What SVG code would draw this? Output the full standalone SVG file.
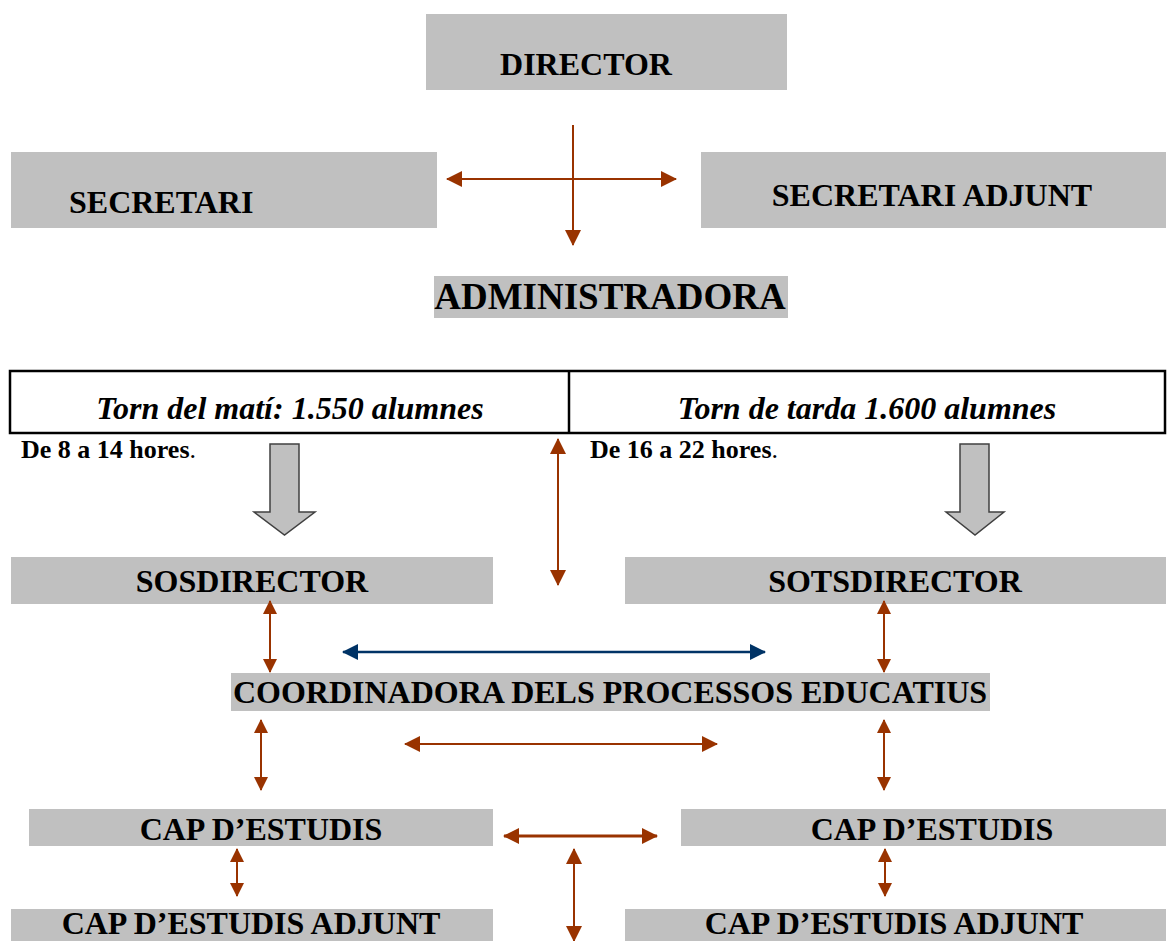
<svg xmlns="http://www.w3.org/2000/svg" width="1168" height="941" viewBox="0 0 1168 941">
<style>
.box{fill:#c0c0c0}
.t{font-family:"Liberation Serif","Times New Roman",serif;font-weight:bold;font-size:32px;fill:#000;text-anchor:middle}
.br{stroke:#993300;stroke-width:2;fill:none}
.bl{stroke:#003366;stroke-width:2.5;fill:none}
.blk{fill:#c0c0c0;stroke:#404040;stroke-width:1.5}
</style>
<defs>
<marker id="ab" viewBox="0 0 16 16" refX="15" refY="8" markerWidth="16" markerHeight="16" markerUnits="userSpaceOnUse" orient="auto-start-reverse">
<path d="M0,0 L16,8 L0,16 z" fill="#993300"/>
</marker>
<marker id="abs" viewBox="0 0 14 14" refX="13" refY="7" markerWidth="14" markerHeight="14" markerUnits="userSpaceOnUse" orient="auto-start-reverse">
<path d="M0,0 L14,7 L0,14 z" fill="#993300"/>
</marker>
<marker id="abl" viewBox="0 0 16 16" refX="15" refY="8" markerWidth="16" markerHeight="16" markerUnits="userSpaceOnUse" orient="auto-start-reverse">
<path d="M0,0 L16,8 L0,16 z" fill="#003366"/>
</marker>
</defs>
<rect width="1168" height="941" fill="#fff"/>

<g id="director">
<rect class="box" x="426" y="14" width="361" height="76"/>
<text class="t" x="586" y="75">DIRECTOR</text>
</g>
<g id="secretari">
<rect class="box" x="11" y="152" width="426" height="76"/>
<text class="t" x="69" y="213" style="text-anchor:start">SECRETARI</text>
</g>
<g id="secretari-adjunt">
<rect class="box" x="701" y="152" width="465" height="76"/>
<text class="t" x="932" y="206">SECRETARI ADJUNT</text>
</g>
<g id="administradora">
<rect class="box" x="434" y="276" width="354" height="42"/>
<text class="t" x="610" y="309" style="font-size:37px">ADMINISTRADORA</text>
</g>

<g id="torns">
<rect x="10" y="371" width="1155" height="62" fill="#fff" stroke="#000" stroke-width="2.5"/>
<line x1="569" y1="371" x2="569" y2="433" stroke="#000" stroke-width="2.5"/>
<text class="t" x="290" y="419" style="font-style:italic">Torn del matí: 1.550 alumnes</text>
<text class="t" x="867" y="419" style="font-style:italic">Torn de tarda 1.600 alumnes</text>
<text class="t" x="21" y="458" style="font-size:26px;text-anchor:start">De 8 a 14 hores<tspan font-weight="normal">.</tspan></text>
<text class="t" x="590" y="458" style="font-size:26px;text-anchor:start">De 16 a 22 hores<tspan font-weight="normal">.</tspan></text>
</g>

<g id="block-arrows">
<polygon class="blk" points="270,444 299,444 299,512 315,512 284.5,535 254,512 270,512"/>
<polygon class="blk" points="960,444 989,444 989,512 1004,512 975,535 946,512 960,512"/>
</g>

<g id="sosdirector">
<rect class="box" x="11" y="557" width="482" height="47"/>
<text class="t" x="252" y="592">SOSDIRECTOR</text>
</g>
<g id="sotsdirector">
<rect class="box" x="625" y="557" width="541" height="47"/>
<text class="t" x="895" y="592">SOTSDIRECTOR</text>
</g>
<g id="coordinadora">
<rect class="box" x="231" y="673" width="759" height="38"/>
<text class="t" x="610" y="703">COORDINADORA DELS PROCESSOS EDUCATIUS</text>
</g>
<g id="cap-estudis-mati">
<rect class="box" x="29" y="809" width="464" height="37"/>
<text class="t" x="261" y="840">CAP D’ESTUDIS</text>
</g>
<g id="cap-estudis-tarda">
<rect class="box" x="681" y="809" width="485" height="37"/>
<text class="t" x="932" y="840">CAP D’ESTUDIS</text>
</g>
<g id="cap-adjunt-mati">
<rect class="box" x="11" y="909" width="482" height="40"/>
<text class="t" x="251" y="934">CAP D’ESTUDIS ADJUNT</text>
</g>
<g id="cap-adjunt-tarda">
<rect class="box" x="625" y="909" width="541" height="40"/>
<text class="t" x="894" y="934">CAP D’ESTUDIS ADJUNT</text>
</g>

<g id="connectors">
<line class="br" x1="573" y1="125" x2="573" y2="245" marker-end="url(#ab)"/>
<line class="br" x1="447" y1="179" x2="676" y2="179" marker-start="url(#ab)" marker-end="url(#ab)"/>
<line class="br" x1="558" y1="439" x2="558" y2="585" marker-start="url(#ab)" marker-end="url(#ab)"/>
<line class="br" x1="270" y1="601" x2="270" y2="672" marker-start="url(#abs)" marker-end="url(#abs)"/>
<line class="br" x1="884" y1="601" x2="884" y2="672" marker-start="url(#abs)" marker-end="url(#abs)"/>
<line class="bl" x1="343" y1="652" x2="765" y2="652" marker-start="url(#abl)" marker-end="url(#abl)"/>
<line class="br" x1="261" y1="720" x2="261" y2="790" marker-start="url(#abs)" marker-end="url(#abs)"/>
<line class="br" x1="405" y1="744" x2="717" y2="744" marker-start="url(#ab)" marker-end="url(#ab)"/>
<line class="br" x1="884" y1="720" x2="884" y2="790" marker-start="url(#abs)" marker-end="url(#abs)"/>
<line class="br" x1="504" y1="836" x2="657" y2="836" style="stroke-width:3" marker-start="url(#ab)" marker-end="url(#ab)"/>
<line class="br" x1="237" y1="849" x2="237" y2="896" marker-start="url(#abs)" marker-end="url(#abs)"/>
<line class="br" x1="885" y1="849" x2="885" y2="896" marker-start="url(#abs)" marker-end="url(#abs)"/>
<line class="br" x1="574" y1="849" x2="574" y2="941" marker-start="url(#ab)" marker-end="url(#ab)"/>
</g>
</svg>
